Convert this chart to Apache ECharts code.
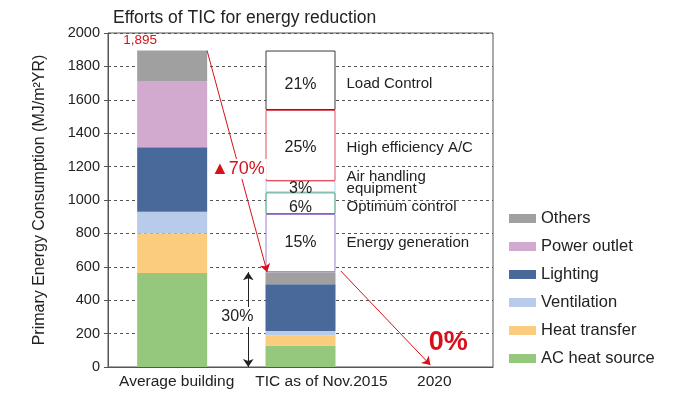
<!DOCTYPE html>
<html>
<head>
<meta charset="utf-8">
<script src="https://cdn.jsdelivr.net/npm/echarts@6/dist/echarts.min.js"></script>
<style>
  html, body { margin: 0; padding: 0; background: #fff; }
  #main { width: 700px; height: 398px; }
</style>
</head>
<body>
<div id="main"></div>
<script>
// categories and stacked values (MJ/m2YR)
var categories = ['Average building', 'TIC as of Nov.2015', '2020'];
var acHeatSource = [563, 128, '-'];
var heatTransfer = [237, 62, '-'];
var ventilation = [130, 25, '-'];
var lighting = [386, 280, '-'];
var powerOutlet = [396, 0, '-'];
var others = [183, 73, '-'];

// reduction boxes on the TIC bar (bottom to top)
var boxNames = ['Energy generation', 'Optimum control', 'Air handling\nequipment', 'High efficiency A/C', 'Load Control'];
var boxPct = ['15%', '6%', '3%', '25%', '21%'];
var boxValues = [348, 130, 68, 425, 356];
var boxColors = ['#9b7fd0', '#2f9a6a', '#a9d3ef', '#e0505e', '#3a3a3a'];

var totalLabel = '1,895';
// annotation points in (x band units, MJ) space
var arrow70 = [[0.772, 1895], [1.24, 569]];
var arrow0 = [[1.814, 575], [2.512, 12]];
var arrow30 = [[1.093, 568], [1.093, 0]];

var myChart = echarts.init(document.getElementById('main'));
var font = 'Liberation Sans';

var barSeries = [
  { name: 'AC heat source', data: acHeatSource, color: '#95c77c' },
  { name: 'Heat transfer', data: heatTransfer, color: '#fbcb7e' },
  { name: 'Ventilation', data: ventilation, color: '#b8cbea' },
  { name: 'Lighting', data: lighting, color: '#49699b' },
  { name: 'Power outlet', data: powerOutlet, color: '#d2aad0' },
  { name: 'Others', data: others, color: '#a0a0a0' }
].map(function (s) {
  var o = {
    name: s.name, type: 'bar', stack: 'total', barWidth: 70,
    itemStyle: { color: s.color },
    data: s.data.slice()
  };
  if (s.name === 'Others') {
    o.data[0] = {
      value: s.data[0],
      label: { show: true, position: 'top', offset: [-32, 2], formatter: totalLabel,
        color: '#d7111b', fontSize: 13.5, fontFamily: font }
    };
  }
  return o;
});

var labelShift = [0, 4, -4, 2, 4];
var boxSeries = boxNames.map(function (n, i) {
  var two = n.indexOf('\n') >= 0;
  var parts = n.split('\n');
  // the trailing f token evens out the two line widths so they stay left aligned
  var fmt = two ? '{p| }{n|' + parts[0] + '}\n{p|' + boxPct[i] + '}{n|' + parts[1] + '}{f| }'
                : '{p|' + boxPct[i] + '}{n|' + n + '}';
  return {
    name: 'box' + i, type: 'bar', stack: 'total', barWidth: 70,
    itemStyle: { color: '#fff', borderColor: boxColors[i], borderWidth: 1 },
    label: {
      show: true, position: 'insideLeft', distance: 0, align: 'left',
      offset: [0, labelShift[i]], formatter: fmt,
      rich: {
        p: { width: 70, align: 'center', fontSize: 16, color: '#222', fontFamily: font, lineHeight: two ? 12 : 18 },
        n: { fontSize: 15, color: '#222', fontFamily: font, padding: [0, 0, 0, 11], lineHeight: two ? 12 : 18 },
        f: { width: 9, fontSize: 15, lineHeight: 12 }
      }
    },
    data: ['-', boxValues[i], '-']
  };
});

var option = {
  animation: false,
  title: {
    text: 'Efforts of TIC for energy reduction', left: 108, top: 4,
    textStyle: { fontSize: 17.5, fontWeight: 'normal', color: '#222', fontFamily: font }
  },
  legend: {
    orient: 'vertical', left: 504, top: 205, itemWidth: 27, itemHeight: 9, itemGap: 11,
    icon: 'rect',
    data: ['Others', 'Power outlet', 'Lighting', 'Ventilation', 'Heat transfer', 'AC heat source'],
    textStyle: { fontSize: 16.5, color: '#222', fontFamily: font }
  },
  grid: { left: 108, right: 207, top: 33, bottom: 31, show: true, borderColor: '#555', borderWidth: 1 },
  xAxis: [{
    type: 'category', data: categories,
    axisLine: { lineStyle: { color: '#555' } },
    axisTick: { length: 4, lineStyle: { color: '#555' } },
    axisLabel: {
      color: '#222', fontSize: 15.5, margin: 7, interval: 0, fontFamily: font,
      formatter: function (v, i) { return '{c' + i + '|' + v + '}'; },
      rich: {
        c0: { fontSize: 15.5, fontFamily: font, color: '#222', padding: [0, 0, 0, 9] },
        c1: { fontSize: 15.5, fontFamily: font, color: '#222', padding: [0, 0, 0, 42] },
        c2: { fontSize: 15.5, fontFamily: font, color: '#222', padding: [0, 0, 0, 11] }
      }
    }
  }, {
    type: 'value', min: 0, max: 3, show: false
  }],
  yAxis: {
    type: 'value', min: 0, max: 2000, interval: 200,
    name: 'Primary Energy Consumption (MJ/m\u00b2YR)', nameLocation: 'middle', nameGap: 60,
    nameTextStyle: { fontSize: 16, color: '#222', fontFamily: font },
    axisLine: { show: true, lineStyle: { color: '#555' } },
    axisTick: { show: true, length: 4, lineStyle: { color: '#555' } },
    axisLabel: { color: '#222', fontSize: 14.5, margin: 8, fontFamily: font,
      formatter: function (v) { return String(v); } },
    splitLine: { lineStyle: { color: '#555', type: [3, 3] } }
  },
  series: barSeries.concat(boxSeries).concat([{
    name: 'notes', type: 'line', xAxisIndex: 1, data: [], silent: true,
    markLine: {
      silent: true, symbolSize: 8, label: { show: false },
      data: [
        [{ coord: arrow70[0], symbol: 'none', lineStyle: { color: '#d7111b', width: 1, type: 'solid' } },
         { coord: arrow70[1], symbol: 'arrow' }],
        [{ coord: arrow0[0], symbol: 'none', lineStyle: { color: '#d7111b', width: 1, type: 'solid' } },
         { coord: arrow0[1], symbol: 'arrow' }],
        [{ coord: arrow30[0], symbol: 'arrow', lineStyle: { color: '#222', width: 1, type: 'solid' } },
         { coord: arrow30[1], symbol: 'arrow' }]
      ]
    },
    markPoint: {
      silent: true, symbol: 'rect', symbolSize: 0,
      data: [
        { coord: [1.012, 1186], label: { show: true, position: 'inside', formatter: '\u25b270%',
          color: '#d7111b', fontSize: 18, backgroundColor: '#fff', padding: [1, 2], fontFamily: font } },
        { coord: [1.008, 300], label: { show: true, position: 'inside', formatter: '30%',
          color: '#222', fontSize: 16, backgroundColor: '#fff', padding: [2, 1], fontFamily: font } },
        { coord: [2.651, 144], label: { show: true, position: 'inside', formatter: '0%',
          color: '#d7111b', fontSize: 27, fontWeight: 'bold', fontFamily: font } }
      ]
    }
  }])
};

myChart.setOption(option);
</script>
</body>
</html>
